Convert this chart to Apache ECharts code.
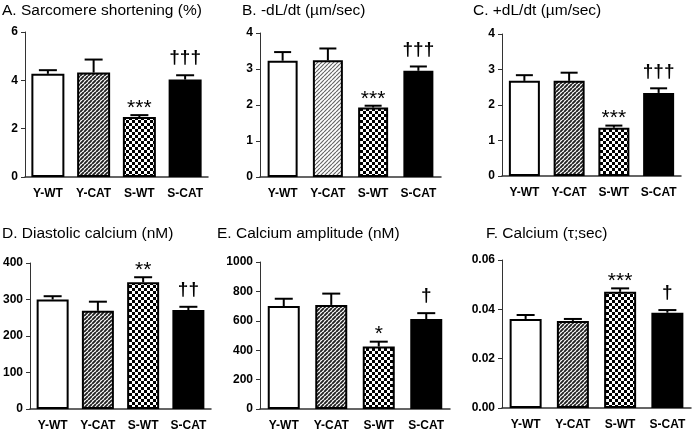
<!DOCTYPE html>
<html><head><meta charset="utf-8">
<script src="https://cdn.jsdelivr.net/npm/echarts/dist/echarts.min.js"></script>
<style>html,body{margin:0;padding:0;background:#fff}#c{width:693px;height:432px}</style>
</head><body><div id="c"></div>
<script>
// ---- data ----
const categories = ['Y-WT', 'Y-CAT', 'S-WT', 'S-CAT'];
const panelTitles = ['A. Sarcomere shortening (%)', 'B. -dL/dt (\u00b5m/sec)', 'C. +dL/dt (\u00b5m/sec)',
  'D. Diastolic calcium (nM)', 'E. Calcium amplitude (nM)', 'F. Calcium (\u03c4;sec)'];

const shorteningMean = [4.27, 4.32, 2.48, 4.03];
const shorteningSem  = [0.15, 0.54, 0.08, 0.18];
const negDLdtMean = [3.23, 3.24, 1.93, 2.95];
const negDLdtSem  = [0.24, 0.33, 0.05, 0.12];
const posDLdtMean = [2.68, 2.68, 1.36, 2.34];
const posDLdtSem  = [0.16, 0.23, 0.06, 0.13];
const diastolicMean = [300, 269, 347, 271];
const diastolicSem  = [9, 25, 14, 9];
const amplitudeMean = [700, 708, 425, 612];
const amplitudeSem  = [50, 77, 33, 40];
const tauMean = [0.0361, 0.0353, 0.0471, 0.0386];
const tauSem  = [0.0016, 0.0008, 0.0014, 0.0011];

const shorteningMarks = ['', '', '***', '\u2020\u2020\u2020'];
const negDLdtMarks = ['', '', '***', '\u2020\u2020\u2020'];
const posDLdtMarks = ['', '', '***', '\u2020\u2020\u2020'];
const diastolicMarks = ['', '', '**', '\u2020\u2020'];
const amplitudeMarks = ['', '', '*', '\u2020'];
const tauMarks = ['', '', '***', '\u2020'];

const yTicksA = [0, 2, 4, 6];
const yTicksB = [0, 1, 2, 3, 4];
const yTicksC = [0, 1, 2, 3, 4];
const yTicksD = [0, 100, 200, 300, 400];
const yTicksE = [0, 200, 400, 600, 800, 1000];
const yTicksF = [0, 0.02, 0.04, 0.06];

// ---- patterns ----
function hatch(stroke, lw) {
  const c = document.createElement('canvas'); c.width = c.height = 4;
  const g = c.getContext('2d'); g.fillStyle = '#fff'; g.fillRect(0, 0, 4, 4);
  g.strokeStyle = stroke; g.lineWidth = lw; g.beginPath();
  for (let k = -1; k <= 2; k++) { g.moveTo(k * 4, 4); g.lineTo(k * 4 + 4, 0); }
  g.stroke(); return c;
}
function checker() {
  const c = document.createElement('canvas'); c.width = c.height = 6;
  const g = c.getContext('2d'); g.fillStyle = '#fff'; g.fillRect(0, 0, 6, 6);
  g.fillStyle = '#000'; g.fillRect(0, 0, 3, 3); g.fillRect(3, 3, 3, 3); return c;
}
const darkHatch = { image: hatch('#222', 1.9), repeat: 'repeat' };
const lightHatch = { image: hatch('#666', 1.2), repeat: 'repeat' };
const check = { image: checker(), repeat: 'repeat' };

const panels = [
  { mean: shorteningMean, sem: shorteningSem, marks: shorteningMarks, ticks: yTicksA, hatch: darkHatch },
  { mean: negDLdtMean, sem: negDLdtSem, marks: negDLdtMarks, ticks: yTicksB, hatch: lightHatch },
  { mean: posDLdtMean, sem: posDLdtSem, marks: posDLdtMarks, ticks: yTicksC, hatch: darkHatch },
  { mean: diastolicMean, sem: diastolicSem, marks: diastolicMarks, ticks: yTicksD, hatch: darkHatch },
  { mean: amplitudeMean, sem: amplitudeSem, marks: amplitudeMarks, ticks: yTicksE, hatch: darkHatch },
  { mean: tauMean, sem: tauSem, marks: tauMarks, ticks: yTicksF, hatch: darkHatch }
];

// ---- layout ----
const grids = [
  { left: 25, top: 32, width: 183, height: 145 },
  { left: 260, top: 33, width: 181, height: 144 },
  { left: 502, top: 34, width: 179, height: 142 },
  { left: 28, top: 263, width: 183, height: 146 },
  { left: 260, top: 262, width: 190, height: 147 },
  { left: 502, top: 260, width: 189, height: 148 }
];
const barWidths = [33, 30, 31, 32, 32, 32];
const titlePos = [[2, 3], [242, 3], [473, 3], [2, 226], [217, 226], [486, 226]];
const FONT = 'Liberation Sans, Arial, Helvetica, sans-serif';

const option = {
  animation: false,
  backgroundColor: '#fff',
  title: panelTitles.map((t, i) => ({
    text: t, left: titlePos[i][0], top: titlePos[i][1], padding: 0,
    textStyle: { fontFamily: FONT, fontSize: 15.5, fontWeight: 'normal', color: '#000' }
  })),
  grid: grids.map(g => Object.assign({ containLabel: false }, g)),
  xAxis: grids.map((g, i) => ({
    type: 'category', gridIndex: i, data: categories,
    axisLine: { show: true, lineStyle: { color: '#333', width: 1.5 } },
    axisTick: { show: false },
    axisLabel: { fontFamily: FONT, fontWeight: 'bold', fontSize: 12, color: '#000', margin: 11, interval: 0 }
  })),
  yAxis: panels.map((p, i) => ({
    type: 'value', gridIndex: i, min: p.ticks[0], max: p.ticks[p.ticks.length - 1],
    interval: p.ticks[1] - p.ticks[0],
    splitLine: { show: false },
    axisLine: { show: true, lineStyle: { color: '#333', width: 1 } },
    axisTick: { show: true, length: 4, lineStyle: { color: '#333' } },
    axisLabel: {
      fontFamily: FONT, fontWeight: 'bold', fontSize: 12, color: '#000', margin: 7,
      formatter: v => (i === 5 ? v.toFixed(2) : String(Math.round(v)))
    }
  })),
  series: []
};

panels.forEach((p, i) => {
  const fills = ['#fff', p.hatch, check, '#000'];
  option.series.push({
    type: 'bar', xAxisIndex: i, yAxisIndex: i, barWidth: barWidths[i],
    itemStyle: { borderColor: '#000', borderWidth: 2 },
    data: p.mean.map((v, j) => ({ value: v, itemStyle: { color: fills[j] } })),
    z: 2
  });
  const cap = Math.round(barWidths[i] * 0.56);
  option.series.push({
    type: 'custom', xAxisIndex: i, yAxisIndex: i, z: 5,
    data: p.mean.map((v, j) => [j, v, v + p.sem[j]]),
    encode: { x: 0, y: [1, 2] },
    renderItem: (params, api) => {
      const x = api.value(0);
      const base = api.coord([x, api.value(1)]);
      const top = api.coord([x, api.value(2)]);
      const mark = p.marks[params.dataIndex];
      const children = [
        { type: 'line', shape: { x1: base[0], y1: base[1], x2: top[0], y2: top[1] }, style: { stroke: '#000', lineWidth: 2 } },
        { type: 'line', shape: { x1: top[0] - cap / 2, y1: top[1], x2: top[0] + cap / 2, y2: top[1] }, style: { stroke: '#000', lineWidth: 2 } }
      ];
      if (mark) {
        const isStar = mark.indexOf('*') >= 0;
        children.push({
          type: 'text',
          style: {
            text: mark, x: top[0], y: isStar ? top[1] - 7 : top[1] - 17,
            textAlign: 'center', textVerticalAlign: 'middle',
            font: (isStar ? '21px ' : 'bold 19px ') + FONT, fill: '#000'
          }
        });
      }
      return { type: 'group', children };
    }
  });
});

const chart = echarts.init(document.getElementById('c'), null, { renderer: 'canvas' });
chart.setOption(option);
</script></body></html>
